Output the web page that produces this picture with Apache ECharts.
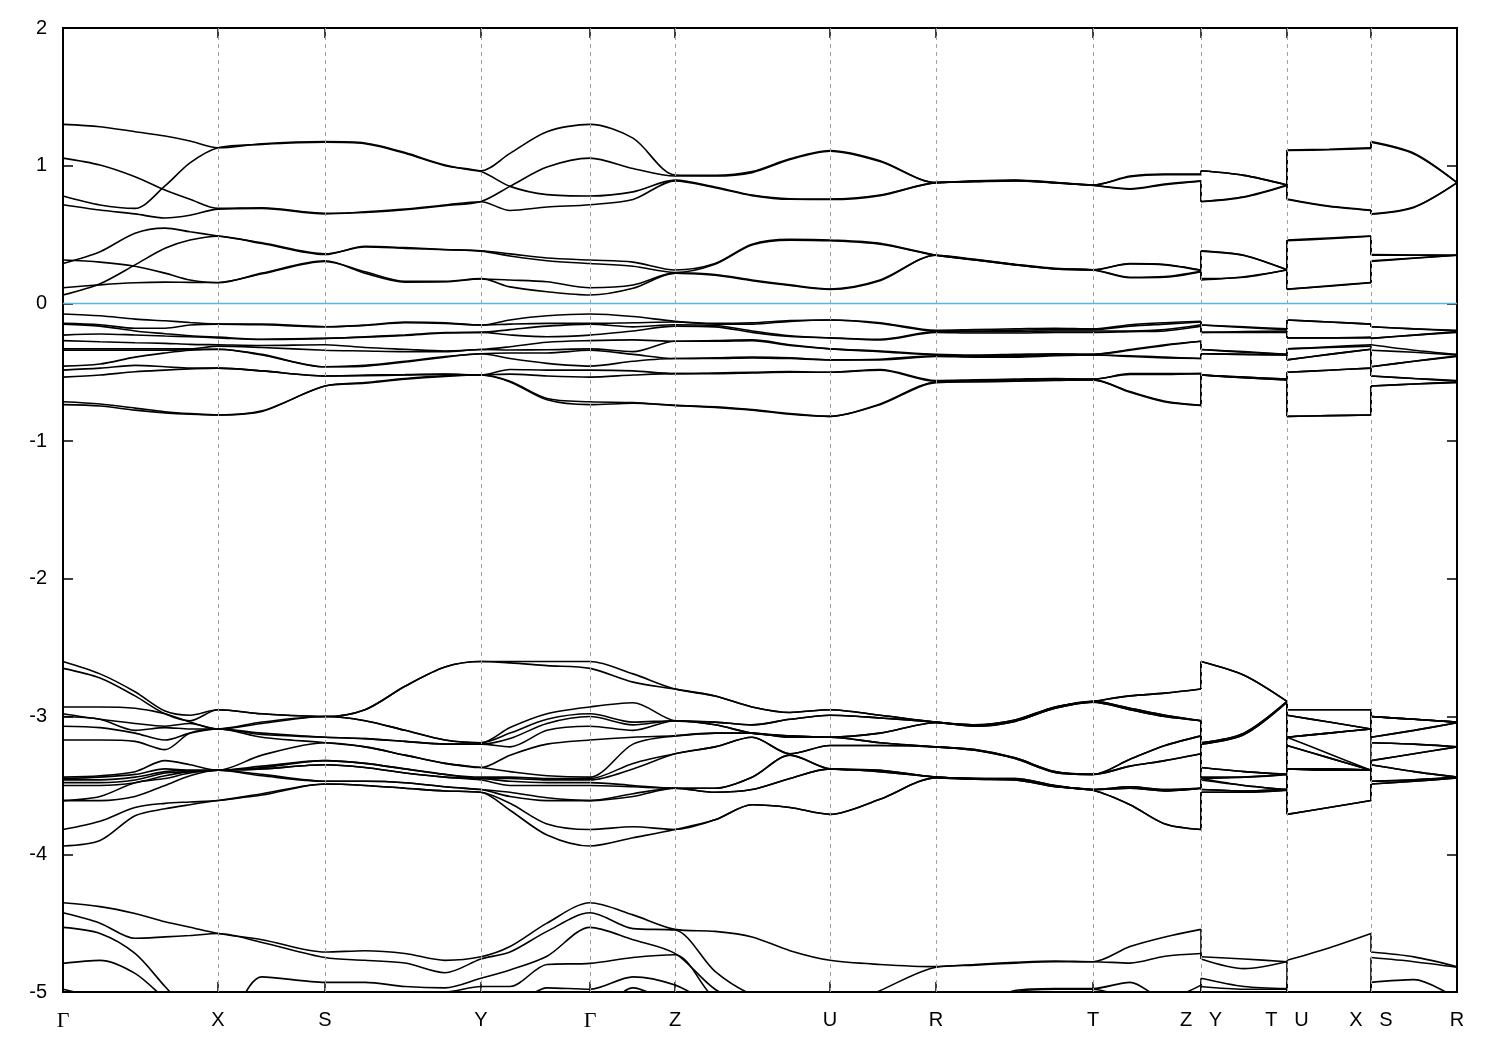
<!DOCTYPE html>
<html>
<head>
<meta charset="utf-8">
<script src="https://cdn.jsdelivr.net/npm/echarts@6/dist/echarts.min.js"></script>
<style>
html,body{margin:0;padding:0;background:#fff;}
#chart{width:1500px;height:1050px;}
</style>
</head>
<body>
<div id="chart"></div>
<script>
// ---- k-path (path length along the Brillouin-zone path) ----
const kPath = [0,0.037,0.072,0.102,0.127,0.155, 0.199,0.262, 0.302,0.342,0.382,0.418, 0.447,0.484,0.527, 0.570,0.612, 0.652,0.689,0.727,0.767, 0.817,0.873, 0.912,0.952,0.992,1.030, 1.067,1.102,1.138, 1.138,1.181,1.224, 1.224,1.266,1.308, 1.308,1.351,1.394];
// indices where the path jumps (Z|Y, T|U, X|S): a segment ends at i and the next starts at i+1
const pathBreaks = [29, 32, 35];
const tickK = [0,0.155,0.262,0.418,0.527,0.612,0.767,0.873,1.030,1.138,1.224,1.308,1.394];
const tickLabels = ['Γ','X','S','Y','Γ','Z','U','R','T','Z   Y','T   U','X   S','R'];
const yTicks = {min:-5, max:2, step:1};
const fermiLevel = 0;

// ---- conduction bands (upper four) ----
const condC8 = [1.30,1.283,1.247,1.216,1.18,1.13, 1.16,1.175, 1.165,1.095,1.005,0.963, 1.09,1.247,1.30, 1.20,0.933, 0.93,0.957,1.05,1.11, 1.036,0.877, 0.89,0.896,0.88,0.86, 0.925,0.94,0.94, 0.963,0.93,0.86, 1.114,1.12,1.13, 1.175,1.09,0.877];
const condC7 = [1.055,1.005,0.92,0.823,0.756,0.69, 0.695,0.655, 0.66,0.68,0.71,0.74, 0.85,0.99,1.055, 0.98,0.925, 0.925,0.95,1.045,1.105, 1.03,0.877, 0.888,0.893,0.878,0.86, 0.92,0.935,0.935, 0.963,0.93,0.86, 1.11,1.116,1.126, 1.17,1.085,0.877];
const condC6 = [0.78,0.715,0.69,0.853,1.02,1.13, 1.155,1.17, 1.16,1.09,1.00,0.958, 0.85,0.79,0.78, 0.81,0.895, 0.845,0.787,0.76,0.758, 0.787,0.877, 0.885,0.892,0.876,0.858, 0.833,0.867,0.89, 0.74,0.775,0.86, 0.758,0.707,0.678, 0.65,0.70,0.877];
const condC5 = [0.717,0.678,0.65,0.62,0.64,0.685, 0.69,0.65, 0.665,0.685,0.715,0.738, 0.675,0.70,0.717, 0.755,0.89, 0.84,0.783,0.756,0.755, 0.783,0.877, 0.884,0.89,0.874,0.856, 0.83,0.863,0.887, 0.738,0.772,0.857, 0.755,0.704,0.675, 0.648,0.697,0.875];
// ---- conduction bands (lower four) ----
const condLa = [0.29,0.375,0.51,0.547,0.52,0.49, 0.44,0.36, 0.41,0.40,0.39,0.383, 0.36,0.33,0.315, 0.30,0.243, 0.29,0.43,0.465,0.46, 0.436,0.35, 0.315,0.28,0.25,0.243, 0.29,0.283,0.243, 0.383,0.35,0.243, 0.46,0.475,0.49, 0.355,0.352,0.35];
const condLd = [0.061,0.143,0.28,0.40,0.46,0.488, 0.435,0.355, 0.415,0.405,0.392,0.38, 0.345,0.31,0.29, 0.27,0.225, 0.285,0.425,0.46,0.455, 0.43,0.35, 0.318,0.285,0.255,0.245, 0.287,0.28,0.24, 0.38,0.348,0.245, 0.455,0.47,0.488, 0.35,0.35,0.35];
const condLb = [0.315,0.30,0.27,0.22,0.17,0.15, 0.22,0.31, 0.22,0.155,0.157,0.177, 0.17,0.157,0.114, 0.134,0.22, 0.21,0.17,0.135,0.105, 0.17,0.35, 0.315,0.28,0.25,0.243, 0.187,0.19,0.23, 0.17,0.194,0.243, 0.105,0.125,0.15, 0.31,0.33,0.35];
const condLc = [0.114,0.135,0.15,0.155,0.153,0.152, 0.215,0.305, 0.23,0.16,0.16,0.18, 0.12,0.085,0.061, 0.11,0.22, 0.205,0.165,0.13,0.102, 0.165,0.35, 0.32,0.283,0.252,0.245, 0.19,0.195,0.233, 0.18,0.19,0.245, 0.102,0.128,0.152, 0.305,0.328,0.35];

// ---- valence bands: one row per k point, 12 energies each ----
const valenceRows = [
[-0.077,-0.145,-0.15,-0.23,-0.27,-0.33,-0.34,-0.455,-0.484,-0.535,-0.714,-0.735],
[-0.09,-0.155,-0.165,-0.222,-0.278,-0.33,-0.34,-0.44,-0.47,-0.52,-0.73,-0.745],
[-0.114,-0.18,-0.2,-0.229,-0.285,-0.33,-0.34,-0.39,-0.45,-0.496,-0.76,-0.775],
[-0.126,-0.18,-0.22,-0.237,-0.29,-0.33,-0.34,-0.36,-0.46,-0.484,-0.786,-0.795],
[-0.138,-0.157,-0.235,-0.242,-0.297,-0.33,-0.335,-0.34,-0.47,-0.476,-0.80,-0.805],
[-0.15,-0.15,-0.245,-0.25,-0.30,-0.31,-0.333,-0.333,-0.47,-0.47,-0.81,-0.81],
[-0.15,-0.155,-0.26,-0.262,-0.305,-0.32,-0.37,-0.375,-0.49,-0.49,-0.78,-0.785],
[-0.169,-0.169,-0.254,-0.254,-0.30,-0.34,-0.46,-0.46,-0.527,-0.527,-0.60,-0.60],
[-0.157,-0.16,-0.242,-0.245,-0.32,-0.345,-0.45,-0.455,-0.52,-0.525,-0.575,-0.58],
[-0.135,-0.14,-0.229,-0.232,-0.333,-0.35,-0.42,-0.425,-0.517,-0.52,-0.545,-0.55],
[-0.14,-0.145,-0.212,-0.215,-0.345,-0.35,-0.385,-0.39,-0.513,-0.515,-0.525,-0.53],
[-0.157,-0.157,-0.21,-0.21,-0.335,-0.335,-0.365,-0.365,-0.52,-0.52,-0.52,-0.52],
[-0.12,-0.15,-0.19,-0.229,-0.314,-0.338,-0.36,-0.40,-0.48,-0.513,-0.565,-0.57],
[-0.09,-0.145,-0.165,-0.242,-0.282,-0.336,-0.36,-0.435,-0.484,-0.527,-0.69,-0.70],
[-0.077,-0.145,-0.15,-0.23,-0.27,-0.33,-0.34,-0.455,-0.484,-0.535,-0.714,-0.735],
[-0.095,-0.14,-0.17,-0.20,-0.265,-0.35,-0.37,-0.42,-0.49,-0.52,-0.72,-0.725],
[-0.13,-0.135,-0.155,-0.165,-0.275,-0.275,-0.40,-0.40,-0.51,-0.51,-0.74,-0.74],
[-0.145,-0.15,-0.16,-0.17,-0.27,-0.275,-0.395,-0.40,-0.505,-0.51,-0.75,-0.755],
[-0.14,-0.15,-0.20,-0.21,-0.265,-0.27,-0.39,-0.395,-0.50,-0.505,-0.77,-0.775],
[-0.125,-0.13,-0.235,-0.24,-0.30,-0.305,-0.395,-0.40,-0.495,-0.50,-0.80,-0.805],
[-0.12,-0.12,-0.25,-0.25,-0.33,-0.33,-0.41,-0.41,-0.50,-0.50,-0.82,-0.82],
[-0.14,-0.145,-0.26,-0.265,-0.345,-0.35,-0.405,-0.41,-0.48,-0.485,-0.73,-0.735],
[-0.195,-0.2,-0.205,-0.21,-0.37,-0.375,-0.38,-0.385,-0.56,-0.565,-0.57,-0.575],
[-0.19,-0.2,-0.205,-0.215,-0.375,-0.38,-0.385,-0.39,-0.555,-0.56,-0.565,-0.57],
[-0.185,-0.195,-0.205,-0.215,-0.37,-0.378,-0.385,-0.39,-0.55,-0.555,-0.56,-0.565],
[-0.18,-0.19,-0.2,-0.21,-0.365,-0.37,-0.375,-0.38,-0.545,-0.55,-0.555,-0.56],
[-0.185,-0.19,-0.2,-0.21,-0.37,-0.37,-0.375,-0.375,-0.55,-0.55,-0.555,-0.555],
[-0.155,-0.165,-0.2,-0.205,-0.335,-0.34,-0.38,-0.385,-0.51,-0.515,-0.64,-0.645],
[-0.14,-0.15,-0.19,-0.2,-0.30,-0.305,-0.39,-0.395,-0.51,-0.515,-0.71,-0.715],
[-0.13,-0.135,-0.155,-0.165,-0.275,-0.275,-0.40,-0.40,-0.51,-0.51,-0.74,-0.74],
[-0.157,-0.157,-0.21,-0.21,-0.335,-0.335,-0.365,-0.365,-0.52,-0.52,-0.52,-0.52],
[-0.17,-0.175,-0.205,-0.21,-0.35,-0.355,-0.37,-0.37,-0.535,-0.535,-0.54,-0.54],
[-0.185,-0.19,-0.2,-0.21,-0.37,-0.37,-0.375,-0.375,-0.55,-0.55,-0.555,-0.555],
[-0.12,-0.12,-0.25,-0.25,-0.33,-0.33,-0.41,-0.41,-0.50,-0.50,-0.82,-0.82],
[-0.135,-0.135,-0.25,-0.25,-0.315,-0.32,-0.37,-0.37,-0.485,-0.485,-0.815,-0.815],
[-0.15,-0.15,-0.245,-0.25,-0.30,-0.31,-0.333,-0.333,-0.47,-0.47,-0.81,-0.81],
[-0.169,-0.169,-0.254,-0.254,-0.30,-0.34,-0.46,-0.46,-0.527,-0.527,-0.60,-0.60],
[-0.185,-0.185,-0.23,-0.23,-0.34,-0.355,-0.42,-0.42,-0.545,-0.545,-0.585,-0.585],
[-0.195,-0.2,-0.205,-0.21,-0.37,-0.375,-0.38,-0.385,-0.56,-0.565,-0.57,-0.575]
];

// ---- bands between -2.6 and -3.95: one row per k point, 16 energies ----
const deepRows = [
[-2.60,-2.65,-2.93,-2.98,-3.00,-3.07,-3.17,-3.44,-3.45,-3.46,-3.48,-3.50,-3.61,-3.61,-3.82,-3.94],
[-2.69,-2.72,-2.93,-3.02,-3.02,-3.08,-3.17,-3.43,-3.44,-3.46,-3.48,-3.50,-3.58,-3.61,-3.76,-3.90],
[-2.82,-2.85,-2.94,-3.05,-3.10,-3.12,-3.18,-3.40,-3.42,-3.44,-3.46,-3.48,-3.48,-3.58,-3.66,-3.72],
[-2.96,-2.98,-2.98,-3.07,-3.08,-3.17,-3.24,-3.32,-3.38,-3.40,-3.41,-3.43,-3.45,-3.50,-3.63,-3.67],
[-2.99,-3.03,-3.04,-3.05,-3.09,-3.12,-3.12,-3.35,-3.39,-3.39,-3.40,-3.40,-3.41,-3.43,-3.62,-3.64],
[-2.95,-2.95,-3.09,-3.09,-3.09,-3.09,-3.09,-3.39,-3.39,-3.39,-3.39,-3.39,-3.39,-3.39,-3.61,-3.61],
[-2.98,-2.98,-3.04,-3.05,-3.12,-3.13,-3.15,-3.28,-3.36,-3.37,-3.38,-3.38,-3.42,-3.43,-3.56,-3.57],
[-3.00,-3.00,-3.00,-3.00,-3.15,-3.15,-3.19,-3.19,-3.32,-3.32,-3.35,-3.35,-3.47,-3.47,-3.49,-3.49],
[-2.95,-2.95,-3.03,-3.03,-3.16,-3.16,-3.22,-3.22,-3.34,-3.34,-3.37,-3.37,-3.47,-3.47,-3.50,-3.50],
[-2.78,-2.78,-3.10,-3.10,-3.18,-3.18,-3.28,-3.28,-3.38,-3.38,-3.41,-3.41,-3.48,-3.48,-3.52,-3.52],
[-2.64,-2.64,-3.17,-3.17,-3.20,-3.20,-3.34,-3.34,-3.42,-3.42,-3.44,-3.44,-3.51,-3.51,-3.54,-3.54],
[-2.60,-2.60,-3.19,-3.19,-3.20,-3.20,-3.37,-3.37,-3.44,-3.45,-3.45,-3.46,-3.53,-3.53,-3.55,-3.55],
[-2.60,-2.61,-3.08,-3.12,-3.16,-3.22,-3.28,-3.40,-3.44,-3.45,-3.47,-3.50,-3.55,-3.58,-3.63,-3.68],
[-2.60,-2.63,-2.98,-3.02,-3.05,-3.10,-3.20,-3.43,-3.45,-3.46,-3.48,-3.50,-3.59,-3.61,-3.78,-3.86],
[-2.60,-2.65,-2.93,-2.98,-3.00,-3.07,-3.17,-3.44,-3.45,-3.46,-3.48,-3.50,-3.61,-3.61,-3.82,-3.94],
[-2.69,-2.75,-2.90,-3.04,-3.06,-3.10,-3.15,-3.20,-3.34,-3.38,-3.50,-3.51,-3.56,-3.58,-3.80,-3.88],
[-2.80,-2.80,-3.03,-3.03,-3.03,-3.03,-3.14,-3.14,-3.27,-3.27,-3.52,-3.52,-3.52,-3.52,-3.82,-3.82],
[-2.85,-2.85,-3.04,-3.04,-3.06,-3.06,-3.12,-3.12,-3.22,-3.22,-3.52,-3.52,-3.55,-3.55,-3.75,-3.75],
[-2.93,-2.93,-3.06,-3.06,-3.12,-3.12,-3.12,-3.12,-3.15,-3.15,-3.44,-3.44,-3.53,-3.53,-3.64,-3.64],
[-2.97,-2.97,-3.02,-3.02,-3.14,-3.14,-3.15,-3.15,-3.27,-3.27,-3.28,-3.28,-3.45,-3.45,-3.66,-3.66],
[-2.95,-2.95,-2.99,-2.99,-3.15,-3.15,-3.15,-3.15,-3.21,-3.21,-3.38,-3.38,-3.38,-3.38,-3.71,-3.71],
[-2.99,-2.99,-3.01,-3.01,-3.12,-3.12,-3.19,-3.19,-3.21,-3.21,-3.39,-3.39,-3.40,-3.40,-3.60,-3.60],
[-3.04,-3.04,-3.04,-3.04,-3.045,-3.045,-3.22,-3.22,-3.22,-3.22,-3.44,-3.44,-3.44,-3.44,-3.445,-3.445],
[-3.06,-3.06,-3.065,-3.065,-3.07,-3.07,-3.24,-3.24,-3.245,-3.245,-3.45,-3.45,-3.45,-3.45,-3.455,-3.455],
[-3.025,-3.025,-3.03,-3.03,-3.035,-3.035,-3.30,-3.30,-3.305,-3.305,-3.45,-3.45,-3.455,-3.455,-3.46,-3.46],
[-2.93,-2.93,-2.935,-2.935,-2.94,-2.94,-3.40,-3.40,-3.405,-3.405,-3.50,-3.50,-3.505,-3.505,-3.51,-3.51],
[-2.89,-2.89,-2.89,-2.89,-2.895,-2.895,-3.42,-3.42,-3.42,-3.42,-3.53,-3.53,-3.53,-3.53,-3.535,-3.535],
[-2.85,-2.85,-2.94,-2.94,-2.95,-2.95,-3.31,-3.31,-3.36,-3.36,-3.51,-3.51,-3.52,-3.52,-3.64,-3.64],
[-2.83,-2.83,-2.99,-2.99,-3.00,-3.00,-3.21,-3.21,-3.32,-3.32,-3.53,-3.53,-3.54,-3.54,-3.78,-3.78],
[-2.80,-2.80,-3.03,-3.03,-3.03,-3.03,-3.14,-3.14,-3.27,-3.27,-3.52,-3.52,-3.52,-3.52,-3.82,-3.82],
[-2.60,-2.60,-3.19,-3.19,-3.20,-3.20,-3.37,-3.37,-3.44,-3.45,-3.45,-3.46,-3.53,-3.53,-3.55,-3.55],
[-2.70,-2.70,-3.12,-3.12,-3.13,-3.13,-3.40,-3.40,-3.44,-3.44,-3.50,-3.50,-3.54,-3.54,-3.55,-3.55],
[-2.89,-2.89,-2.89,-2.89,-2.895,-2.895,-3.42,-3.42,-3.42,-3.42,-3.53,-3.53,-3.53,-3.53,-3.535,-3.535],
[-2.95,-2.95,-2.99,-2.99,-3.15,-3.15,-3.15,-3.15,-3.21,-3.21,-3.38,-3.38,-3.38,-3.38,-3.71,-3.71],
[-2.95,-2.95,-3.04,-3.04,-3.12,-3.12,-3.12,-3.27,-3.30,-3.30,-3.38,-3.38,-3.39,-3.39,-3.66,-3.66],
[-2.95,-2.95,-3.09,-3.09,-3.09,-3.09,-3.09,-3.39,-3.39,-3.39,-3.39,-3.39,-3.39,-3.39,-3.61,-3.61],
[-3.00,-3.00,-3.00,-3.00,-3.15,-3.15,-3.19,-3.19,-3.32,-3.32,-3.35,-3.35,-3.47,-3.47,-3.49,-3.49],
[-3.02,-3.02,-3.02,-3.02,-3.10,-3.10,-3.20,-3.20,-3.27,-3.27,-3.40,-3.40,-3.46,-3.46,-3.47,-3.47],
[-3.04,-3.04,-3.04,-3.04,-3.045,-3.045,-3.22,-3.22,-3.22,-3.22,-3.44,-3.44,-3.44,-3.44,-3.445,-3.445]
];

// ---- lowest visible bands (below -4.3): one row per k point, 6 energies ----
const lowRows = [
[-4.352,-4.425,-4.531,-4.792,-4.98,-5.2],
[-4.38,-4.50,-4.575,-4.77,-5.05,-5.25],
[-4.43,-4.61,-4.72,-4.865,-5.15,-5.3],
[-4.49,-4.60,-4.96,-5.05,-5.25,-5.35],
[-4.53,-4.59,-5.15,-5.2,-5.3,-5.4],
[-4.575,-4.575,-5.3,-5.3,-5.4,-5.4],
[-4.62,-4.64,-4.89,-5.1,-5.3,-5.4],
[-4.71,-4.75,-4.93,-5.1,-5.2,-5.3],
[-4.70,-4.77,-4.93,-5.05,-5.2,-5.3],
[-4.72,-4.79,-4.96,-5.0,-5.15,-5.3],
[-4.77,-4.86,-4.97,-5.0,-5.1,-5.25],
[-4.744,-4.76,-4.90,-4.96,-5.1,-5.2],
[-4.67,-4.71,-4.84,-4.96,-5.1,-5.2],
[-4.50,-4.56,-4.74,-4.80,-4.97,-5.1],
[-4.352,-4.425,-4.531,-4.792,-4.98,-5.2],
[-4.44,-4.54,-4.62,-4.75,-4.89,-4.97],
[-4.545,-4.55,-4.72,-4.73,-4.95,-5.1],
[-4.56,-4.85,-4.98,-5.05,-5.1,-5.2],
[-4.60,-5.02,-5.1,-5.15,-5.2,-5.3],
[-4.70,-5.1,-5.2,-5.3,-5.4,-5.5],
[-4.77,-5.15,-5.25,-5.3,-5.4,-5.5],
[-4.80,-4.99,-5.05,-5.2,-5.3,-5.4],
[-4.816,-4.82,-5.05,-5.2,-5.3,-5.4],
[-4.80,-4.805,-5.1,-5.15,-5.3,-5.4],
[-4.785,-4.79,-4.99,-5.0,-5.2,-5.3],
[-4.775,-4.78,-4.975,-4.98,-5.15,-5.3],
[-4.78,-4.78,-4.975,-4.98,-5.1,-5.3],
[-4.67,-4.79,-4.93,-5.05,-5.2,-5.3],
[-4.60,-4.74,-5.05,-5.1,-5.2,-5.3],
[-4.545,-4.72,-4.95,-5.1,-5.2,-5.3],
[-4.744,-4.76,-4.90,-4.96,-5.1,-5.2],
[-4.76,-4.83,-4.96,-4.98,-5.15,-5.3],
[-4.78,-4.78,-4.975,-4.98,-5.1,-5.3],
[-4.77,-5.15,-5.25,-5.3,-5.4,-5.5],
[-4.68,-5.1,-5.2,-5.3,-5.4,-5.5],
[-4.575,-5.3,-5.3,-5.4,-5.4,-5.5],
[-4.71,-4.75,-4.93,-5.1,-5.2,-5.3],
[-4.745,-4.78,-4.91,-5.1,-5.2,-5.3],
[-4.816,-4.82,-5.05,-5.2,-5.3,-5.4]
];

// ---- build series ----
function columns(rows) {
  const out = [];
  for (let b = 0; b < rows[0].length; b++) out.push(rows.map(r => r[b]));
  return out;
}
const allBands = [condC8, condC7, condC6, condC5, condLa, condLd, condLb, condLc]
  .concat(columns(valenceRows), columns(deepRows), columns(lowRows));

const bandStyle = {color: '#000', width: 1.6};
const series = [];
series.push({
  type: 'line',
  data: [[kPath[0], fermiLevel], [kPath[kPath.length - 1], fermiLevel]],
  showSymbol: false, symbol: 'none', silent: true, z: 2,
  lineStyle: {color: '#56b4e9', width: 1.5},
  markLine: {
    silent: true, symbol: 'none', animation: false, precision: 6,
    label: {show: false},
    lineStyle: {color: '#a0a0a0', width: 1, type: [4, 4]},
    data: tickK.slice(1, -1).map(k => ({xAxis: k}))
  }
});
const segStarts = [0].concat(pathBreaks.map(b => b + 1));
const segEnds = pathBreaks.concat([kPath.length - 1]);
allBands.forEach(vals => {
  // smooth continuous pieces
  segStarts.forEach((s, j) => {
    const e = segEnds[j];
    const pts = [];
    for (let i = s; i <= e; i++) pts.push([kPath[i], vals[i]]);
    series.push({
      type: 'line', data: pts, smooth: 0.3,
      showSymbol: false, symbol: 'none', silent: true, z: 3,
      lineStyle: bandStyle
    });
  });
  // straight jumps at the path discontinuities
  pathBreaks.forEach(b => {
    series.push({
      type: 'line', data: [[kPath[b], vals[b]], [kPath[b + 1], vals[b + 1]]],
      showSymbol: false, symbol: 'none', silent: true, z: 3,
      lineStyle: bandStyle
    });
  });
});

const fontSans = 'Liberation Sans, Arial, Helvetica, sans-serif';
const tickStyle = {color: '#000', width: 1.5};
const chart = echarts.init(document.getElementById('chart'), null, {renderer: 'canvas'});
chart.setOption({
  animation: false,
  backgroundColor: '#fff',
  grid: {left: 63, right: 43, top: 28, bottom: 58, show: true, borderColor: '#000', borderWidth: 2, backgroundColor: 'transparent'},
  xAxis: [{
    type: 'value', min: kPath[0], max: kPath[kPath.length - 1], position: 'bottom',
    axisLine: {show: false, onZero: false}, splitLine: {show: false},
    axisTick: {show: true, inside: true, length: 10, customValues: tickK, lineStyle: tickStyle},
    axisLabel: {
      customValues: tickK, margin: 18, color: '#000',
      formatter: function (v) {
        const i = tickK.indexOf(v);
        const t = i >= 0 ? tickLabels[i] : '';
        return t === 'Γ' ? '{g|Γ}' : '{s|' + t + '}';
      },
      rich: {
        g: {fontFamily: 'Liberation Serif, DejaVu Serif, serif', fontSize: 22, color: '#000'},
        s: {fontFamily: fontSans, fontSize: 20, color: '#000'}
      }
    }
  }, {
    type: 'value', min: kPath[0], max: kPath[kPath.length - 1], position: 'top',
    axisLine: {show: false, onZero: false}, splitLine: {show: false},
    axisTick: {show: true, inside: true, length: 10, customValues: tickK, lineStyle: tickStyle},
    axisLabel: {show: false}
  }],
  yAxis: [{
    type: 'value', min: yTicks.min, max: yTicks.max, interval: yTicks.step, position: 'left',
    axisLine: {show: false, onZero: false}, splitLine: {show: false},
    axisTick: {show: true, inside: true, length: 10, lineStyle: tickStyle},
    axisLabel: {margin: 16, color: '#000', fontSize: 20, fontFamily: fontSans}
  }, {
    type: 'value', min: yTicks.min, max: yTicks.max, interval: yTicks.step, position: 'right',
    axisLine: {show: false, onZero: false}, splitLine: {show: false},
    axisTick: {show: true, inside: true, length: 10, lineStyle: tickStyle},
    axisLabel: {show: false}
  }],
  series: series
});
</script>
</body>
</html>
